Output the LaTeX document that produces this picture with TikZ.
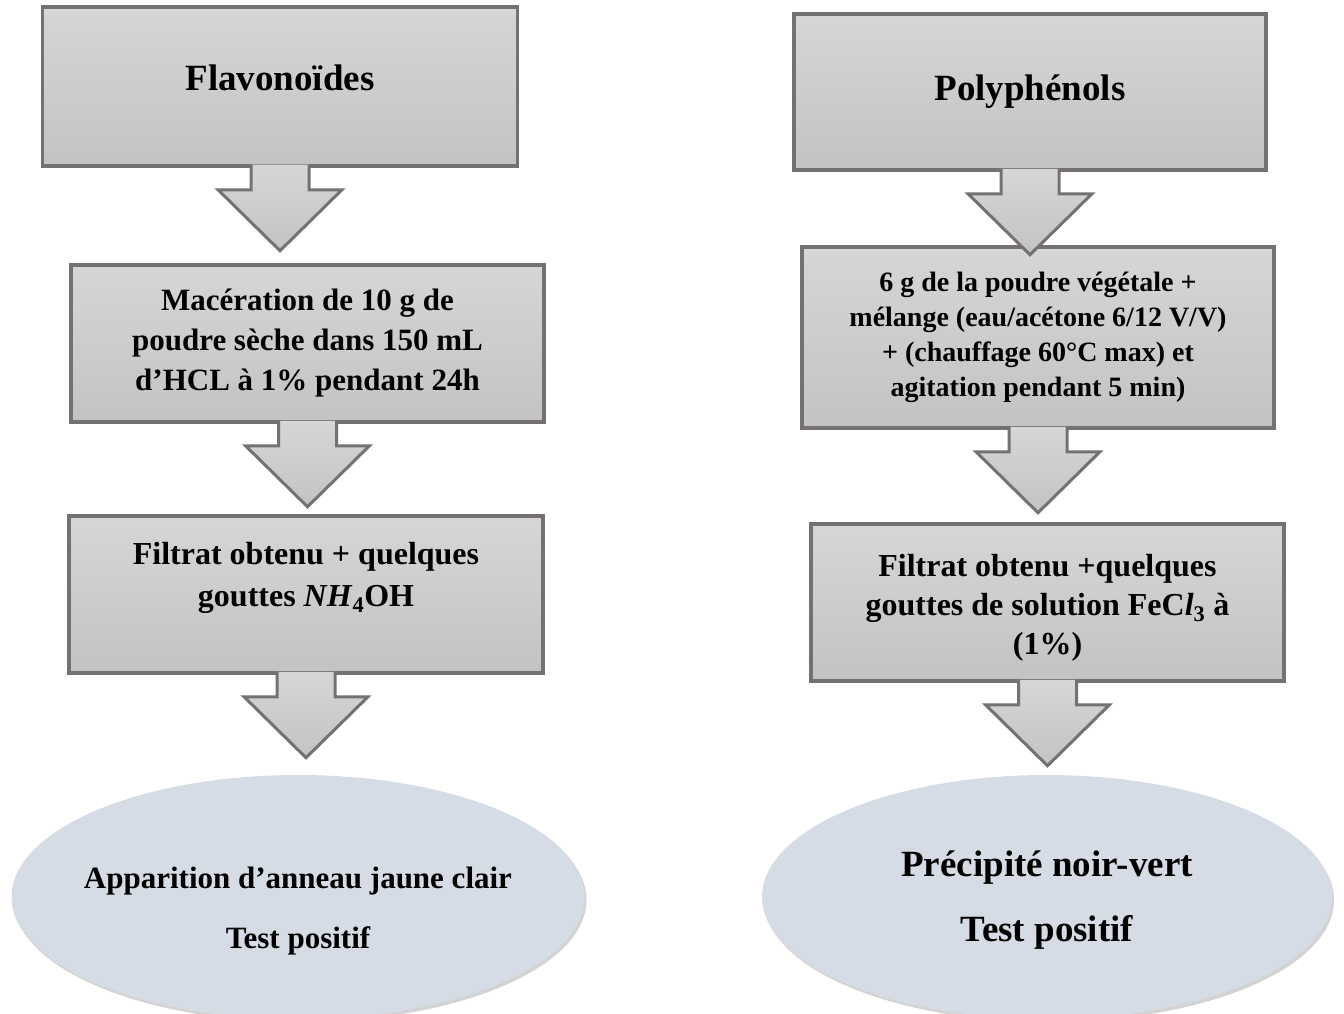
\documentclass[tikz,border=0pt]{standalone}
\usepackage{fontspec}
\setmainfont{Liberation Serif}
\usepackage{tikz}
\usetikzlibrary{calc, positioning, shapes.geometric, shadows}
\usepackage{xcolor}

\definecolor{boxtop}{RGB}{214,214,214}
\definecolor{boxbot}{RGB}{195,195,195}
\definecolor{boxline}{RGB}{118,113,113}
\definecolor{ringfill}{RGB}{214,220,229}

% invisible struts to move a text block inside its box
\newcommand{\padabove}[1]{\rule{0pt}{#1}}
\newcommand{\padbelow}[1]{\rule[-#1]{0pt}{#1}}

% block arrow from the bottom of one box towards the next one
\newcommand{\blockarrow}[2]{%
  \coordinate (s) at (#1.south);
  \coordinate (t) at ($(#1.south)!83pt!(#1.south |- #2.north)$);
  \draw[arrowbox] ($(s)+(-29,-3)$) -- ($(s)+(-29,22)$) -- ($(s)+(-62,22)$)
    -- (t) -- ($(s)+(62,22)$) -- ($(s)+(29,22)$) -- ($(s)+(29,-3)$);
}

\begin{document}
\begin{tikzpicture}[x=1pt, y=-1pt,
    stepbox/.style={draw=boxline, line width=3.5pt, top color=boxtop, bottom color=boxbot,
      align=center, inner sep=0pt, minimum width=473pt, minimum height=157pt},
    arrowbox/.style={draw=boxline, line width=3pt, top color=boxtop, bottom color=boxbot,
      line join=miter},
    result/.style={ellipse, fill=ringfill, align=center, inner xsep=-40pt, inner ysep=0pt,
      drop shadow={shadow xshift=2pt, shadow yshift=-3pt, opacity=0.35}}]
  \useasboundingbox (0,0) rectangle (1344,1014);

  %► Left column: flavonoids
  \node[stepbox, minimum width=475pt, minimum height=159pt,
        font=\fontsize{37}{44}\selectfont\bfseries] (flav) at (280,86.5)
    {Flavonoïdes\padbelow{18pt}};
  \node[stepbox, font=\fontsize{31}{40}\selectfont\bfseries] (macer) at (307.5,343.5)
    {Macération de 10 g de\\poudre sèche dans 150 mL\\d’HCL à 1\% pendant 24h};
  \node[stepbox, minimum width=474pt, font=\fontsize{32}{42}\selectfont\bfseries] (filtL) at (306,594.5)
    {Filtrat obtenu + quelques\\gouttes \textit{NH}\textsubscript{4}OH\padbelow{40pt}};
  \node[result, minimum width=573pt, minimum height=244pt,
        font=\fontsize{31}{60}\selectfont\bfseries] (ringL) at (298,897)
    {\padabove{50pt}Apparition d’anneau jaune clair\\Test positif};

  %► Right column: polyphenols
  \node[stepbox, minimum width=472pt, minimum height=156pt,
        font=\fontsize{37}{44}\selectfont\bfseries] (poly) at (1030,92) {Polyphénols};
  \node[stepbox, minimum width=472pt, minimum height=181pt,
        font=\fontsize{28}{35}\selectfont\bfseries] (mix) at (1038,337.5)
    {6 g de la poudre végétale +\\mélange (eau/acétone 6/12 V/V)\\+ (chauffage 60°C max) et\\agitation pendant 5 min)};
  \node[stepbox, font=\fontsize{32}{39}\selectfont\bfseries] (filtR) at (1047.5,602.5)
    {\padabove{33pt}Filtrat obtenu +quelques\\gouttes de solution FeC\textit{l}\textsubscript{3} à\\(1\%)};
  \node[result, minimum width=570pt, minimum height=244pt,
        font=\fontsize{37}{65}\selectfont\bfseries] (ringR) at (1047,897)
    {\padabove{32pt}Précipité noir-vert\\Test positif};

  %► Block arrows
  \blockarrow{flav}{macer}
  \blockarrow{macer}{filtL}
  \blockarrow{filtL}{ringL}
  \blockarrow{poly}{mix}
  \blockarrow{mix}{filtR}
  \blockarrow{filtR}{ringR}
\end{tikzpicture}
\end{document}
